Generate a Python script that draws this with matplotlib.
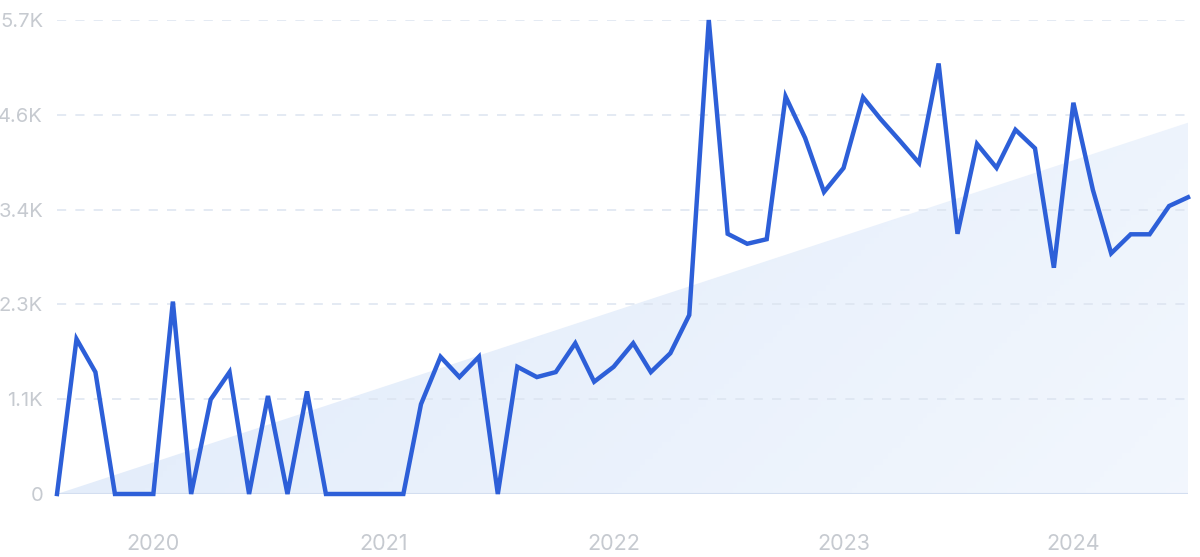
import numpy as np
import pandas as pd
import matplotlib
matplotlib.use("Agg")
import matplotlib.pyplot as plt
import matplotlib.dates as mdates
from matplotlib.patches import Polygon

plt.rcParams['font.family'] = ['Inter', 'DejaVu Sans']

# Monthly search volume, Aug 2019 - Jul 2024
months = pd.date_range("2019-08-01", periods=60, freq="MS")
values = [0, 1864, 1466, 0, 0, 0, 2314, 0, 1136, 1466, 0, 1179, 0, 1234,
          0, 0, 0, 0, 0, 1080, 1650, 1406, 1650, 0,
          1530, 1406, 1466, 1813, 1350, 1530, 1813, 1466, 1693, 2152,
          5700, 3129, 3009, 3064, 4780, 4281, 3632, 3920, 4770, 4507,
          4243, 3980, 5177, 3129, 4209, 3922, 4380, 4157, 2721,
          4705, 3656, 2894, 3123, 3123, 3463, 3568]

# trend line shading (start / end value)
trend_start = 0
trend_end = 4465

yticks = [0, 1140, 2280, 3420, 4560, 5700]
ytick_labels = ["0", "1.1K", "2.3K", "3.4K", "4.6K", "5.7K"]
year_ticks = ["2020", "2021", "2022", "2023", "2024"]

fig = plt.figure(figsize=(12, 5.57), dpi=100)
ax = fig.add_axes([57 / 1200, 63 / 557, (1188 - 57) / 1200, 474 / 557])

x = mdates.date2num(months)
ax.set_xlim(x[0], x[-1])
ax.set_ylim(0, 5700)

# gradient filled trend area
poly = Polygon([(x[0], trend_start), (x[-1], trend_end), (x[-1], 0)],
               closed=True, facecolor='none', edgecolor='none')
ax.add_patch(poly)
gx = np.linspace(0, 1, 256)
gy = np.linspace(0, 1, 64)
GX, GY = np.meshgrid(gx, gy)
t = np.clip(0.75 * GX + 0.25 * (1 - GY), 0, 1)
c0 = np.array([0.875, 0.918, 0.980])
c1 = np.array([0.950, 0.968, 0.994])
img = c0[None, None, :] * (1 - t[..., None]) + c1[None, None, :] * t[..., None]
im = ax.imshow(img, extent=[x[0], x[-1], 0, trend_end], origin='lower',
               aspect='auto', zorder=1)
im.set_clip_path(poly)

# grid
for yv in yticks[1:]:
    ax.axhline(yv, color='#dce4f0', lw=1.1, dashes=(6, 6), zorder=2)
ax.axhline(0, color='#d3def0', lw=1.5, zorder=2)

ax.plot(x, values, color='#2d5fd8', lw=3.2, solid_joinstyle='miter',
        zorder=4, clip_on=False)

for s in ax.spines.values():
    s.set_visible(False)

ax.set_yticks(yticks)
ax.set_yticklabels(ytick_labels)
ax.set_xticks([mdates.date2num(pd.Timestamp(f"{y}-01-01")) for y in year_ticks])
ax.set_xticklabels(year_ticks)
ax.tick_params(axis='y', length=0, labelsize=14.5, labelcolor='#c6cad0', pad=10)
ax.tick_params(axis='x', length=0, labelsize=15.5, labelcolor='#c6cad0', pad=29)

fig.savefig("out.png", dpi=100, facecolor='white')
